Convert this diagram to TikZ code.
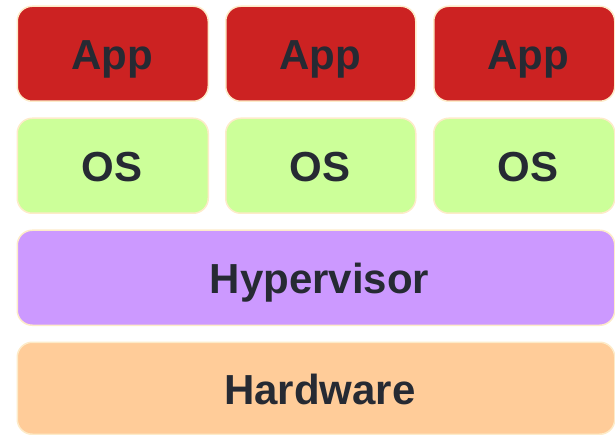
\documentclass[tikz,border=0pt]{standalone}
\usepackage{fontspec}
\setmainfont{Liberation Sans}
\begin{document}
\begin{tikzpicture}[x=1pt,y=-1pt,
  layer/.style={draw=edgecream, line width=1.5pt, rounded corners=15pt, inner sep=0pt, anchor=north west},
  lbl/.style={font=\fontsize{42}{42}\selectfont\bfseries, text=txtdark, anchor=base, inner sep=0pt}]
\definecolor{edgecream}{HTML}{FDEBC9}
\definecolor{txtdark}{HTML}{262A33}
\definecolor{appred}{HTML}{CC2222}
\definecolor{oslime}{HTML}{CCFF99}
\definecolor{hvpurple}{HTML}{CC99FF}
\definecolor{hworange}{HTML}{FFCC99}
\useasboundingbox (0,0) rectangle (615,435);
% App row
\node[layer, fill=appred, minimum width=191pt, minimum height=95pt] (app1) at (16.5,5.5) {};
\node[layer, fill=appred, minimum width=190pt, minimum height=95pt] (app2) at (225,5.5) {};
\node[layer, fill=appred, minimum width=181pt, minimum height=95pt] (app3) at (433,5.5) {};
% OS row
\node[layer, fill=oslime, minimum width=191pt, minimum height=95pt] (os1) at (16.5,117.5) {};
\node[layer, fill=oslime, minimum width=190pt, minimum height=95pt] (os2) at (225,117.5) {};
\node[layer, fill=oslime, minimum width=181pt, minimum height=95pt] (os3) at (433,117.5) {};
% Hypervisor
\node[layer, fill=hvpurple, minimum width=597.5pt, minimum height=95pt] (hv) at (16.5,229.5) {};
% Hardware
\node[layer, fill=hworange, minimum width=597.5pt, minimum height=92pt] (hw) at (16.5,341.5) {};
% Labels
\node[lbl] (tapp1) at (112,70) {App};
\node[lbl] (tapp2) at (320,70) {App};
\node[lbl] (tapp3) at (528,70) {App};
\node[lbl] (tos1) at (112,182) {OS};
\node[lbl] (tos2) at (320,182) {OS};
\node[lbl] (tos3) at (528,182) {OS};
\node[lbl] (thv) at (319.5,294) {Hypervisor};
\node[lbl] (thw) at (320,404) {Hardware};
\end{tikzpicture}
\end{document}
